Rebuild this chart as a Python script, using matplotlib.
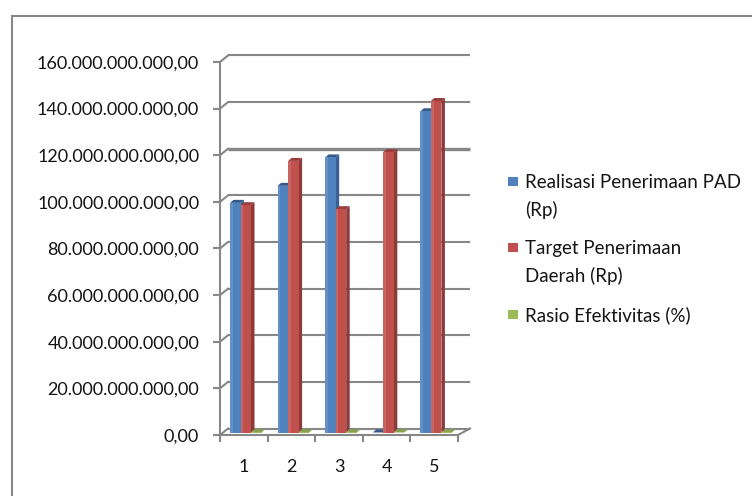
import numpy as np
import matplotlib.pyplot as plt
from matplotlib.patches import Polygon, Rectangle

# Data (values in billions of rupiah, ratio in percent)
kategori = [1, 2, 3, 4, 5]
realisasi = [98.5, 105.8, 118.0, 0.0, 137.8]
target = [97.5, 116.5, 95.8, 120.3, 142.2]
rasio = [101.0, 90.8, 123.2, 0.0, 96.9]
label_seri = ["Realisasi Penerimaan PAD\n(Rp)", "Target Penerimaan\nDaerah (Rp)",
              "Rasio Efektivitas (%)"]
y_ticks = [0, 20, 40, 60, 80, 100, 120, 140, 160]

plt.rcParams['font.family'] = ['Lato', 'DejaVu Sans']
W, H = 752, 496
fig = plt.figure(figsize=(W / 100, H / 100), dpi=100)

# front plane of the plot area, in pixels
x0p, x1p, ytop, ybot = 220, 458, 62, 435
ax = fig.add_axes([x0p / W, (H - ybot) / H, (x1p - x0p) / W, (ybot - ytop) / H])
ax.set_xlim(0.5, 5.5)
ax.set_ylim(0, 160)
ax.patch.set_alpha(0)
for s in ['top', 'right']:
    ax.spines[s].set_visible(False)

# pixel -> data units
kx = 5 / (x1p - x0p)
ky = 160 / (ybot - ytop)
grey = '#878787'
txt = '#141414'

# back wall depth offset
bdx, bdy = 8 * kx, 6.5 * ky
xr = 0.5 + (470 - x0p) * kx
for v in y_ticks:
    lw = 2.4 if v == 120 else 1.5
    ax.plot([0.5 + bdx, xr], [v + bdy, v + bdy], color=grey, lw=lw,
            solid_capstyle='butt', clip_on=False)
    ax.plot([0.5, 0.5 + bdx], [v, v + bdy], color=grey, lw=1.5, clip_on=False)
# floor right edge
ax.plot([5.5, xr], [0, bdy], color=grey, lw=1.5, clip_on=False)

# axes styling
ax.spines['left'].set_color(grey)
ax.spines['left'].set_linewidth(1.5)
ax.spines['bottom'].set_color(grey)
ax.spines['bottom'].set_linewidth(1.5)
ax.set_yticks(y_ticks)
ax.set_yticklabels(["0,00" if v == 0 else f"{int(v * 1e9):,}".replace(',', '.') + ",00"
                    for v in y_ticks])
ax.tick_params(axis='y', length=5, width=1.5, color=grey, pad=10, labelsize=13,
               labelcolor=txt)
ax.set_xticks(kategori)
ax.set_xticklabels([str(k) for k in kategori])
ax.set_xticks(np.arange(0.5, 6, 1), minor=True)
ax.tick_params(axis='x', which='major', length=0, pad=17, labelsize=13, labelcolor=txt)
ax.tick_params(axis='x', which='minor', length=5, width=1.5, color=grey)

# 3d columns
faces = [('#4F81BD', '#3A6193', '#35598A'),
         ('#C0504D', '#8E3A38', '#9A3E3B'),
         ('#9BBB59', '#77913F', '#86A54A')]
off = 10 * kx
bw = 10.5 * kx
sdx, sdy = 3.5 * kx, 3 * ky
base = 2.5 * ky
series = [realisasi, target, [r / 1e9 for r in rasio]]
for j, vals in enumerate(series):
    front, side, top = faces[j]
    for i, v in zip(kategori, vals):
        xa = i - 0.5 + off + j * bw
        xb = xa + bw
        yb, yt = base, base + v
        ax.add_patch(Polygon([(xb, yb), (xb + sdx, yb + sdy), (xb + sdx, yt + sdy), (xb, yt)],
                             closed=True, facecolor=side, edgecolor='none', zorder=3))
        ax.add_patch(Polygon([(xa, yt), (xb, yt), (xb + sdx, yt + sdy), (xa + sdx, yt + sdy)],
                             closed=True, facecolor=top, edgecolor='none', zorder=3))
        if v > 0:
            ax.add_patch(Rectangle((xa, yb), bw, v, facecolor=front, edgecolor='none', zorder=4))
            ax.add_patch(Rectangle((xa, yb), bw * 0.25, v, facecolor='white', alpha=0.12,
                                   edgecolor='none', zorder=4))

# legend, one text line at a time
leg_y = [181, 247, 314]
for (front, _, _), lab, ly in zip(faces, label_seri, leg_y):
    fig.patches.append(Rectangle((508 / W, (H - ly - 5) / H), 9.5 / W, 9.5 / H,
                                 transform=fig.transFigure, facecolor=front, edgecolor='none'))
    for k, baris in enumerate(lab.split('\n')):
        fig.text(525 / W, (H - ly - 27.5 * k) / H, baris, fontsize=13.5,
                 va='center_baseline', ha='left', color=txt)

# chart border
fig.patches.append(Rectangle((12 / W, -0.05), 1.0, (H - 16) / H + 0.05,
                             transform=fig.transFigure, facecolor='none',
                             edgecolor=grey, lw=1.5))

fig.savefig('out.png', dpi=100)
